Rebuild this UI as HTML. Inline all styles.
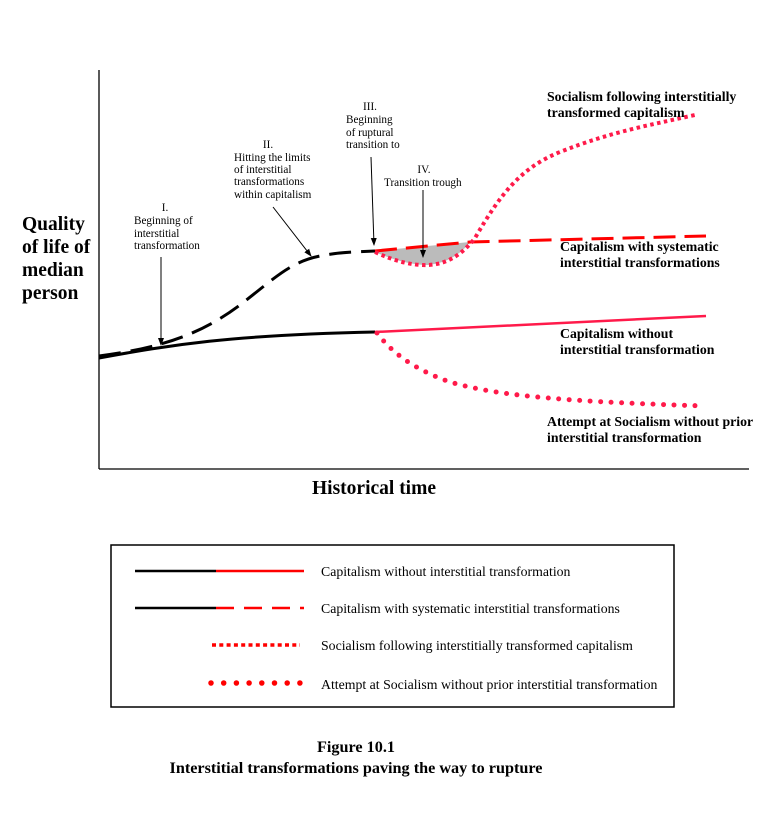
<!DOCTYPE html>
<html><head><style>body{margin:0;background:#fff}svg{display:block}</style></head><body>
<svg width="777" height="823" xmlns="http://www.w3.org/2000/svg" font-family="Liberation Serif, serif">
<defs><marker id="a" markerWidth="8" markerHeight="8" refX="7" refY="4" orient="auto"><path d="M0,1 L8,4 L0,7z" fill="#000"/></marker></defs>
<line x1="99" y1="70" x2="99" y2="469" stroke="#000" stroke-width="1.3"/>
<line x1="99" y1="469" x2="749" y2="469" stroke="#000" stroke-width="1.3"/>
<path d="M375,251 L470,242 Q455,262 428,265 Q405,265 375,252Z" fill="#bbb"/>
<path d="M99,358 C170,345 230,335 375,332" fill="none" stroke="#000" stroke-width="3"/>
<line x1="375" y1="332" x2="706" y2="316" stroke="#ff1a4a" stroke-width="2.5"/>
<path d="M99,356 C160,348 200,335 240,305 C275,278 290,262 320,256 C340,252 355,252 375,251" fill="none" stroke="#000" stroke-width="3" stroke-dasharray="22,10"/>
<path d="M375,251 L470,242 L706,236" fill="none" stroke="#f00" stroke-width="3" stroke-dasharray="22,9"/>
<path d="M375,252 Q405,266 428,265 Q455,264 475,238 C500,195 520,168 560,152 C610,132 650,125 695,115" fill="none" stroke="#ff1a4a" stroke-width="4" stroke-dasharray="3.5,3.5"/>
<path d="M377,333 C390,350 410,368 450,382 C500,397 580,402 705,406" fill="none" stroke="#ff1a4a" stroke-width="5" stroke-linecap="round" stroke-dasharray="0,10.5"/>
<g font-size="11.2" fill="#000">
<text x="165" y="211" text-anchor="middle">I.</text>
<text x="134" y="224">Beginning of</text><text x="134" y="237">interstitial</text><text x="134" y="249">transformation</text>
<text x="268" y="148" text-anchor="middle">II.</text>
<text x="234" y="161">Hitting the limits</text><text x="234" y="173">of interstitial</text><text x="234" y="185">transformations</text><text x="234" y="198">within capitalism</text>
<text x="370" y="110" text-anchor="middle">III.</text>
<text x="346" y="123">Beginning</text><text x="346" y="136">of ruptural</text><text x="346" y="148">transition to</text>
<text x="424" y="173" text-anchor="middle">IV.</text>
<text x="384" y="186">Transition trough</text>
</g>
<g stroke="#000" stroke-width="1">
<line x1="161" y1="257" x2="161" y2="345" marker-end="url(#a)"/>
<line x1="273" y1="207" x2="311" y2="256" marker-end="url(#a)"/>
<line x1="371" y1="157" x2="374" y2="245" marker-end="url(#a)"/>
<line x1="423" y1="190" x2="423" y2="257" marker-end="url(#a)"/>
</g>
<g font-size="13.8" font-weight="bold">
<text x="547" y="101">Socialism following interstitially</text><text x="547" y="117">transformed capitalism</text>
<text x="560" y="251">Capitalism with systematic</text><text x="560" y="267">interstitial transformations</text>
<text x="560" y="338">Capitalism without</text><text x="560" y="354">interstitial transformation</text>
<text x="547" y="426">Attempt at Socialism without prior</text><text x="547" y="442">interstitial transformation</text>
</g>
<g font-size="19.5" font-weight="bold">
<text x="22" y="230">Quality</text><text x="22" y="253">of life of</text><text x="22" y="276">median</text><text x="22" y="299">person</text>
<text x="312" y="494">Historical time</text>
</g>
<rect x="111" y="545" width="563" height="162" fill="none" stroke="#000" stroke-width="1.5"/>
<line x1="135" y1="571" x2="216" y2="571" stroke="#000" stroke-width="2.5"/>
<line x1="216" y1="571" x2="304" y2="571" stroke="#f00" stroke-width="2.5"/>
<line x1="135" y1="608" x2="216" y2="608" stroke="#000" stroke-width="2.5"/>
<line x1="216" y1="608" x2="304" y2="608" stroke="#f00" stroke-width="2.5" stroke-dasharray="18,10"/>
<line x1="212" y1="645" x2="300" y2="645" stroke="#f00" stroke-width="3.5" stroke-dasharray="4,3.3"/>
<line x1="211" y1="683" x2="300" y2="683" stroke="#f00" stroke-width="5.5" stroke-linecap="round" stroke-dasharray="0,12.7"/>
<g font-size="13.8">
<text x="321" y="576">Capitalism without interstitial transformation</text>
<text x="321" y="613">Capitalism with systematic interstitial transformations</text>
<text x="321" y="650">Socialism following interstitially transformed capitalism</text>
<text x="321" y="689">Attempt at Socialism without prior interstitial transformation</text>
</g>
<g font-size="16.2" font-weight="bold" text-anchor="middle">
<text x="356" y="752">Figure 10.1</text>
<text x="356" y="773">Interstitial transformations paving the way to rupture</text>
</g>
</svg>
</body></html>
